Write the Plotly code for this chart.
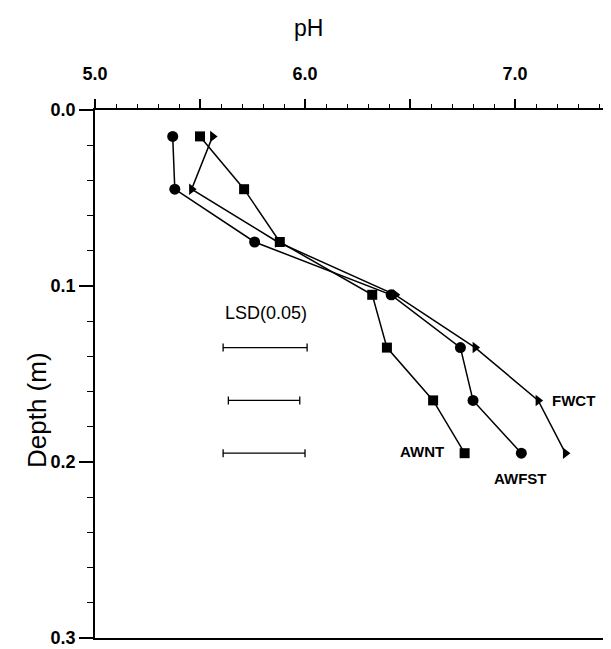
import plotly.graph_objects as go

depth = [0.015, 0.045, 0.075, 0.105, 0.135, 0.165, 0.195]
ph_awfst = [5.37, 5.38, 5.76, 6.41, 6.74, 6.80, 7.03]
ph_awnt = [5.50, 5.71, 5.88, 6.32, 6.39, 6.61, 6.76]
ph_fwct = [5.56, 5.46, 5.87, 6.43, 6.81, 7.11, 7.24]

lsd_depth = [0.135, 0.165, 0.195]
lsd_center = [5.81, 5.805, 5.805]
lsd_half = [0.20, 0.17, 0.195]

x_tickvals = [5.0, 5.5, 6.0, 6.5, 7.0]
x_ticktext = ["5.0", "", "6.0", "", "7.0"]
y_tickvals = [0.0, 0.1, 0.2, 0.3]
y_ticktext = ["0.0", "0.1", "0.2", "0.3"]

FONT = "Liberation Sans, Arial, sans-serif"
line = dict(color="black", width=1.5)

# page body has an 8px offset; figure coords = screen coords - 8
OFF = 8
W, H = 611 - OFF, 649 - OFF
ML, MT = 95 - OFF, 110 - OFF
MB = H - (638 - OFF)
PW, PH = W - ML, H - MT - MB

fig = go.Figure()
fig.add_trace(go.Scatter(x=ph_awfst, y=depth, mode="lines+markers", line=line,
                         marker=dict(symbol="circle", size=11, color="black"), name="AWFST"))
fig.add_trace(go.Scatter(x=ph_awnt, y=depth, mode="lines+markers", line=line,
                         marker=dict(symbol="square", size=10, color="black"), name="AWNT"))
fig.add_trace(go.Scatter(x=ph_fwct, y=depth, mode="lines+markers", line=line,
                         marker=dict(symbol="triangle-right", size=10, color="black"), name="FWCT"))
fig.add_trace(go.Scatter(x=lsd_center, y=lsd_depth, mode="markers",
                         marker=dict(size=1, color="rgba(0,0,0,0)"),
                         error_x=dict(type="data", array=lsd_half, symmetric=True,
                                      color="black", thickness=1.3, width=4),
                         name="LSD"))

annots = [
    dict(x=7.28, y=0.165, text="FWCT", size=15, weight="bold"),
    dict(x=6.557, y=0.194, text="AWNT", size=15, weight="bold"),
    dict(x=7.024, y=0.2096, text="AWFST", size=15, weight="bold"),
    dict(x=5.813, y=0.1155, text="LSD(0.05)", size=18, weight="normal"),
]
for a in annots:
    fig.add_annotation(x=a["x"], y=a["y"], xref="x", yref="y", text=a["text"],
                       showarrow=False, xanchor="center", yanchor="middle",
                       font=dict(family=FONT, size=a["size"], color="black", weight=a["weight"]))

fig.add_annotation(x=(308 - 95) / PW, y=1 + (110 - 28) / PH, xref="paper", yref="paper",
                   text="pH", showarrow=False, xanchor="center", yanchor="middle",
                   font=dict(family=FONT, size=23, color="black"))
fig.add_annotation(x=-(95 - 37) / PW, y=1 - (410 - 110) / PH, xref="paper", yref="paper",
                   text="Depth (m)", textangle=-90, showarrow=False,
                   xanchor="center", yanchor="middle",
                   font=dict(family=FONT, size=26, color="black"))

fig.update_layout(
    width=W, height=H,
    margin=dict(l=ML, r=0, t=MT, b=MB, autoexpand=False),
    paper_bgcolor="white", plot_bgcolor="white",
    showlegend=False,
    font=dict(family=FONT, color="black"),
    xaxis=dict(side="top", range=[5.0, 7.457], tickvals=x_tickvals, ticktext=x_ticktext,
               ticks="outside", ticklen=9, tickwidth=1.5, tickcolor="black",
               showline=True, linecolor="black", linewidth=1.5, mirror=True,
               showgrid=False, zeroline=False, automargin=False, ticklabelstandoff=12,
               tickfont=dict(family=FONT, size=18, color="black", weight="bold"),
               minor=dict(dtick=0.1, ticks="outside", ticklen=4, tickwidth=1, tickcolor="black",
                          showgrid=False)),
    yaxis=dict(range=[0.3, 0.0], tickvals=y_tickvals, ticktext=y_ticktext,
               ticks="outside", ticklen=14, tickwidth=1.5, tickcolor="black",
               showline=True, linecolor="black", linewidth=1.5,
               showgrid=False, zeroline=False, automargin=False,
               tickfont=dict(family=FONT, size=18, color="black", weight="bold"),
               minor=dict(dtick=0.02, ticks="outside", ticklen=6, tickwidth=1, tickcolor="black",
                          showgrid=False)),
)

fig.write_html("out.html")
